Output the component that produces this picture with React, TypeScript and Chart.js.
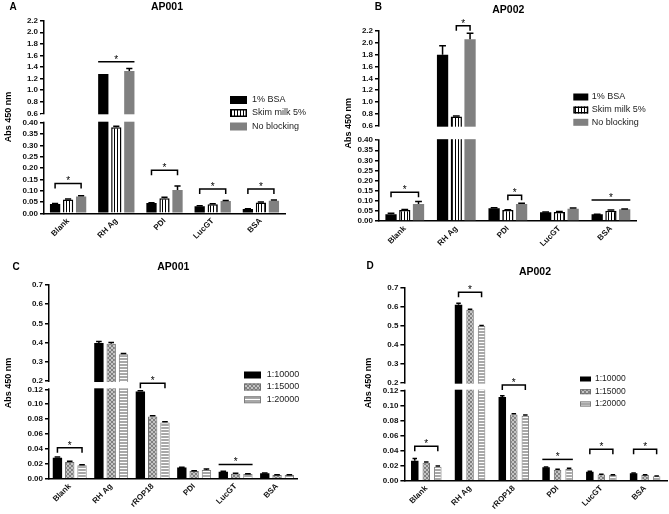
import React, { useEffect, useRef } from 'react';
import { Chart, registerables, LinearScale } from 'chart.js';

Chart.register(...registerables);

// ---------------- DATA ----------------
const catsAB = ['Blank', 'RH Ag', 'PDI', 'LucGT', 'BSA'];
const catsCD = ['Blank', 'RH Ag', 'rROP18', 'PDI', 'LucGT', 'BSA'];
const seriesAB = ['1% BSA', 'Skim milk 5%', 'No blocking'];
const seriesCD = ['1:10000', '1:15000', '1:20000'];

const lowTicksAB = [0, 0.05, 0.1, 0.15, 0.2, 0.25, 0.3, 0.35, 0.4];
const upTicksAB = [0.6, 0.8, 1.0, 1.2, 1.4, 1.6, 1.8, 2.0, 2.2];
const lowTicksCD = [0, 0.02, 0.04, 0.06, 0.08, 0.1, 0.12];
const upTicksCD = [0.2, 0.3, 0.4, 0.5, 0.6, 0.7];

// Panel A (AP001, blocking)
const aBsa = [0.041, 1.28, 0.045, 0.031, 0.019];
const aBsaErr = [0.002, 0, 0.002, 0.002, 0.001];
const aSkim = [0.061, 0.38, 0.066, 0.04, 0.048];
const aSkimErr = [0.002, 0.004, 0.005, 0.002, 0.002];
const aNone = [0.074, 1.33, 0.103, 0.054, 0.055];
const aNoneErr = [0.003, 0.045, 0.018, 0.003, 0.004];
const aSig = [
  { cat: 0, from: 0, to: 2, y: 0.132 },
  { cat: 1, from: 0, to: 2, y: 1.49, flat: true },
  { cat: 2, from: 0, to: 2, y: 0.19 },
  { cat: 3, from: 0, to: 2, y: 0.107 },
  { cat: 4, from: 0, to: 2, y: 0.107 },
];

// Panel B (AP002, blocking)
const bBsa = [0.033, 1.8, 0.063, 0.043, 0.033];
const bBsaErr = [0.005, 0.15, 0.002, 0.001, 0.001];
const bSkim = [0.055, 0.755, 0.054, 0.045, 0.051];
const bSkimErr = [0.002, 0.01, 0.002, 0.002, 0.003];
const bNone = [0.084, 2.06, 0.084, 0.061, 0.058];
const bNoneErr = [0.012, 0.1, 0.004, 0.003, 0.002];
const bSig = [
  { cat: 0, from: 0, to: 2, y: 0.142 },
  { cat: 1, from: 1, to: 2, y: 2.29 },
  { cat: 2, from: 1, to: 2, y: 0.128 },
  { cat: 4, from: 0, to: 2, y: 0.104, flat: true },
];

// Panel C (AP001, dilution)
const c10 = [0.028, 0.398, 0.117, 0.015, 0.0094, 0.0072];
const c10Err = [0.001, 0.008, 0.001, 0.0005, 0.0005, 0.0003];
const c15 = [0.0225, 0.394, 0.0835, 0.0103, 0.0067, 0.005];
const c15Err = [0.001, 0.007, 0.001, 0.0003, 0.0005, 0.0003];
const c20 = [0.018, 0.34, 0.0756, 0.0116, 0.0063, 0.0049];
const c20Err = [0.0008, 0.003, 0.0008, 0.0015, 0.0003, 0.0003];
const cSig = [
  { cat: 0, from: 0, to: 2, y: 0.0416 },
  { cat: 2, from: 0, to: 2, y: 0.178 },
  { cat: 4, from: 0, to: 2, y: 0.0192, flat: true },
];

// Panel D (AP002, dilution)
const d10 = [0.0267, 0.609, 0.1116, 0.0178, 0.012, 0.0098];
const d10Err = [0.003, 0.008, 0.0015, 0.0005, 0.0005, 0.0003];
const d15 = [0.024, 0.582, 0.0884, 0.0147, 0.0084, 0.0076];
const d15Err = [0.001, 0.003, 0.001, 0.0005, 0.0003, 0.0003];
const d20 = [0.0187, 0.498, 0.0867, 0.0156, 0.0076, 0.0058];
const d20Err = [0.001, 0.002, 0.001, 0.001, 0.0003, 0.0003];
const dSig = [
  { cat: 0, from: 0, to: 2, y: 0.046 },
  { cat: 1, from: 0, to: 2, y: 0.674 },
  { cat: 2, from: 0, to: 2, y: 0.177 },
  { cat: 3, from: 0, to: 2, y: 0.0284, flat: true },
  { cat: 4, from: 0, to: 2, y: 0.0418 },
  { cat: 5, from: 0, to: 2, y: 0.0418 },
];

// ---------------- LAYOUT ----------------
const FONT = '"Liberation Sans", Arial, Helvetica, sans-serif';

const panels = [
  {
    key: 'A', letter: 'A', title: 'AP001', kind: 'AB',
    cats: catsAB, series: seriesAB,
    values: [aBsa, aSkim, aNone], errors: [aBsaErr, aSkimErr, aNoneErr], sig: aSig,
    low: lowTicksAB, up: upTicksAB,
    box: { x: 0, y: 0, w: 335, h: 250 },
    area: { l: 44, r: 285, t: 20.7, b: 213.3 }, lowFrac: 0.4704, gapFrac: 0.0488,
    catPct: 0.81, barPct: 0.79,
    letterPos: [13, 7], titlePos: [167, 7], yTitlePos: [8.5, 117],
    legend: { x: 230, ys: [100, 113, 126.5], w: 17, h: 8, tx: 252, fs: 9 },
  },
  {
    key: 'B', letter: 'B', title: 'AP002', kind: 'AB',
    cats: catsAB, series: seriesAB,
    values: [bBsa, bSkim, bNone], errors: [bBsaErr, bSkimErr, bNoneErr], sig: bSig,
    low: lowTicksAB, up: upTicksAB,
    box: { x: 335, y: 0, w: 334, h: 250 },
    area: { l: 44, r: 301.7, t: 31, b: 221 }, lowFrac: 0.4253, gapFrac: 0.0763,
    catPct: 0.8, barPct: 0.82,
    letterPos: [43.3, 7], titlePos: [173.3, 10], yTitlePos: [13.3, 123.3],
    legend: { x: 238.3, ys: [97, 110, 122.3], w: 15, h: 7, tx: 256.7, fs: 9 },
  },
  {
    key: 'C', letter: 'C', title: 'AP001', kind: 'CD',
    cats: catsCD, series: seriesCD,
    values: [c10, c15, c20], errors: [c10Err, c15Err, c20Err], sig: cSig,
    low: lowTicksCD, up: upTicksCD,
    box: { x: 0, y: 250, w: 335, h: 264 },
    area: { l: 49, r: 297.8, t: 35, b: 228.7 }, lowFrac: 0.4615, gapFrac: 0.0428,
    catPct: 0.89, barPct: 0.76,
    letterPos: [16, 17.3], titlePos: [173.3, 17.3], yTitlePos: [8.3, 133],
    legend: { x: 244, ys: [125, 137, 149.7], w: 17, h: 7, tx: 266.7, fs: 9 },
  },
  {
    key: 'D', letter: 'D', title: 'AP002', kind: 'CD',
    cats: catsCD, series: seriesCD,
    values: [d10, d15, d20], errors: [d10Err, d15Err, d20Err], sig: dSig,
    low: lowTicksCD, up: upTicksCD,
    box: { x: 335, y: 250, w: 334, h: 264 },
    area: { l: 69.4, r: 332, t: 37.3, b: 230.7 }, lowFrac: 0.4654, gapFrac: 0.0414,
    catPct: 0.79, barPct: 0.65,
    letterPos: [35, 16], titlePos: [200, 21.7], yTitlePos: [33.3, 133],
    legend: { x: 245, ys: [129, 141.7, 154], w: 11, h: 5, tx: 260, fs: 8.5 },
  },
];

// ---------------- BROKEN AXIS SCALE ----------------
function makeBrokenScale(id: string, low: number[], up: number[], lowFrac: number, gapFrac: number) {
  const lowMax = low[low.length - 1];
  const upMin = up[0];
  const max = up[up.length - 1];
  const upFrac = 1 - lowFrac - gapFrac;
  const Base: any = LinearScale;
  class Broken extends Base {
    determineDataLimits() {
      this.min = 0;
      this.max = max;
    }
    buildTicks() {
      return [...low, ...up].map((value) => ({ value }));
    }
    toDecimal(v: number) {
      if (v <= lowMax) return (v / lowMax) * lowFrac;
      if (v >= upMin) return lowFrac + gapFrac + ((v - upMin) / (max - upMin)) * upFrac;
      return lowFrac + ((v - lowMax) / (upMin - lowMax)) * gapFrac;
    }
    getPixelForValue(v: number) {
      return this.getPixelForDecimal(this.toDecimal(v));
    }
    getValueForPixel(p: number) {
      const d = this.getDecimalForPixel(p);
      if (d <= lowFrac) return (d / lowFrac) * lowMax;
      if (d >= lowFrac + gapFrac) return upMin + ((d - lowFrac - gapFrac) / upFrac) * (max - upMin);
      return lowMax + ((d - lowFrac) / gapFrac) * (upMin - lowMax);
    }
  }
  (Broken as any).id = id;
  return Broken;
}

function makePatterns(ctx: CanvasRenderingContext2D) {
  const mk = (w: number, h: number, draw: (g: CanvasRenderingContext2D) => void) => {
    const c = document.createElement('canvas');
    c.width = w;
    c.height = h;
    const g = c.getContext('2d') as CanvasRenderingContext2D;
    draw(g);
    return ctx.createPattern(c, 'repeat') as CanvasPattern;
  };
  const vstripe = mk(3, 4, (g) => {
    g.fillStyle = '#ffffff';
    g.fillRect(0, 0, 3, 4);
    g.fillStyle = '#000000';
    g.fillRect(0, 0, 1, 4);
  });
  const cross = mk(4, 4, (g) => {
    g.fillStyle = '#c4c4c4';
    g.fillRect(0, 0, 4, 4);
    g.fillStyle = '#808080';
    for (let i = 0; i < 4; i++) {
      g.fillRect(i, i, 1, 1);
      g.fillRect(3 - i, i, 1, 1);
    }
  });
  const hstripe = mk(4, 3, (g) => {
    g.fillStyle = '#a8a8a8';
    g.fillRect(0, 0, 4, 3);
    g.fillStyle = '#ffffff';
    g.fillRect(0, 2, 4, 1);
  });
  return { vstripe, cross, hstripe };
}

function buildChart(canvas: HTMLCanvasElement, p: any) {
  const ctx = canvas.getContext('2d') as CanvasRenderingContext2D;
  const pat = makePatterns(ctx);
  const styles =
    p.kind === 'AB'
      ? [
          { bg: '#000000', bc: '#000000', bw: 0 },
          { bg: pat.vstripe, bc: '#000000', bw: 1.5 },
          { bg: '#808080', bc: '#808080', bw: 0 },
        ]
      : [
          { bg: '#000000', bc: '#000000', bw: 0 },
          { bg: pat.cross, bc: '#6e6e6e', bw: 1 },
          { bg: pat.hstripe, bc: '#7c7c7c', bw: 1 },
        ];

  const scaleId = 'broken' + p.key;
  Chart.register(makeBrokenScale(scaleId, p.low, p.up, p.lowFrac, p.gapFrac) as any);
  const upMin = p.up[0];
  const lowMax = p.low[p.low.length - 1];
  const W = p.box.w;
  const H = p.box.h;

  const decor = {
    id: 'decor' + p.key,
    afterDatasetsDraw(chart: any) {
      const c = chart.ctx;
      const ys = chart.scales.y;
      const a = chart.chartArea;
      const pUp = ys.getPixelForValue(upMin);
      const pLow = ys.getPixelForValue(lowMax);
      c.save();
      c.fillStyle = '#ffffff';
      c.fillRect(a.left - 3, pUp + 1, a.right - a.left + 6, pLow - pUp - 2);
      // error bars
      c.strokeStyle = '#000000';
      c.lineWidth = 1.5;
      p.values.forEach((vals: number[], i: number) => {
        const meta = chart.getDatasetMeta(i);
        meta.data.forEach((bar: any, j: number) => {
          const e = p.errors[i][j];
          if (!e) return;
          const top = ys.getPixelForValue(vals[j] + e);
          const by = ys.getPixelForValue(vals[j]);
          const hw = bar.width * 0.3;
          c.beginPath();
          c.moveTo(bar.x, by);
          c.lineTo(bar.x, top);
          c.moveTo(bar.x - hw, top);
          c.lineTo(bar.x + hw, top);
          c.stroke();
        });
      });
      c.restore();
    },
    afterDraw(chart: any) {
      const c = chart.ctx;
      const ys = chart.scales.y;
      c.save();
      // significance brackets
      c.strokeStyle = '#000000';
      c.lineWidth = 1.5;
      c.fillStyle = '#000000';
      p.sig.forEach((s: any) => {
        const b1 = chart.getDatasetMeta(s.from).data[s.cat];
        const b2 = chart.getDatasetMeta(s.to).data[s.cat];
        const yy = ys.getPixelForValue(s.y);
        let x1: number;
        let x2: number;
        c.beginPath();
        if (s.flat) {
          x1 = b1.x - b1.width / 2;
          x2 = b2.x + b2.width / 2;
          c.moveTo(x1, yy);
          c.lineTo(x2, yy);
        } else {
          x1 = b1.x;
          x2 = b2.x;
          c.moveTo(x1, yy + 5);
          c.lineTo(x1, yy);
          c.lineTo(x2, yy);
          c.lineTo(x2, yy + 5);
        }
        c.stroke();
        c.font = `10px ${FONT}`;
        c.textAlign = 'center';
        c.textBaseline = 'alphabetic';
        c.fillText('*', (x1 + x2) / 2, yy + 1);
      });
      // legend
      const L = p.legend;
      p.series.forEach((name: string, i: number) => {
        const st = styles[i];
        const cy = L.ys[i];
        c.fillStyle = st.bg;
        c.fillRect(L.x, cy - L.h / 2, L.w, L.h);
        if (st.bw) {
          c.strokeStyle = st.bc;
          c.lineWidth = st.bw;
          c.strokeRect(L.x + st.bw / 2, cy - L.h / 2 + st.bw / 2, L.w - st.bw, L.h - st.bw);
        }
        c.fillStyle = '#222222';
        c.font = `${L.fs}px ${FONT}`;
        c.textAlign = 'left';
        c.textBaseline = 'middle';
        c.fillText(name, L.tx, cy);
      });
      // texts
      c.fillStyle = '#000000';
      c.textAlign = 'center';
      c.textBaseline = 'middle';
      c.font = `bold 10px ${FONT}`;
      c.fillText(p.letter, p.letterPos[0], p.letterPos[1]);
      c.font = `bold 10.5px ${FONT}`;
      c.fillText(p.title, p.titlePos[0], p.titlePos[1]);
      c.save();
      c.translate(p.yTitlePos[0], p.yTitlePos[1]);
      c.rotate(-Math.PI / 2);
      c.font = `bold 9px ${FONT}`;
      c.fillText('Abs 450 nm', 0, 0);
      c.restore();
      c.restore();
    },
  };

  const tickFont = { family: FONT, size: 8, weight: 'bold' as const };

  return new Chart(canvas, {
    type: 'bar',
    data: {
      labels: p.cats,
      datasets: p.values.map((vals: number[], i: number) => ({
        label: p.series[i],
        data: vals,
        backgroundColor: styles[i].bg,
        borderColor: styles[i].bc,
        borderWidth: styles[i].bw,
        borderSkipped: 'bottom',
        categoryPercentage: p.catPct,
        barPercentage: p.barPct,
      })),
    },
    options: {
      animation: false,
      responsive: false,
      events: [],
      layout: { padding: { left: 0, top: p.area.t, right: W - p.area.r, bottom: 0 } },
      plugins: {
        legend: { display: false },
        title: { display: false },
        tooltip: { enabled: false },
      },
      scales: {
        x: {
          type: 'category',
          offset: true,
          grid: { display: false, drawTicks: false },
          border: { display: true, color: '#000000', width: 1.5 },
          ticks: {
            autoSkip: false,
            minRotation: 45,
            maxRotation: 45,
            font: tickFont,
            color: '#111111',
            padding: 3,
          },
          afterFit: (s: any) => {
            s.height = H - p.area.b;
          },
        },
        y: {
          type: scaleId as any,
          grid: { drawOnChartArea: false, drawTicks: true, tickLength: 4, color: '#000000', lineWidth: 1.5 },
          border: { display: true, color: '#000000', width: 1.5 },
          ticks: {
            autoSkip: false,
            font: tickFont,
            color: '#111111',
            padding: 2,
            callback: (v: any) => (Number(v) >= upMin ? Number(v).toFixed(1) : Number(v).toFixed(2)),
          },
          afterFit: (s: any) => {
            s.width = p.area.l;
          },
        },
      },
    } as any,
    plugins: [decor as any],
  });
}

function Panel({ p }: { p: any }) {
  const ref = useRef<HTMLCanvasElement | null>(null);
  useEffect(() => {
    if (!ref.current) return;
    const chart = buildChart(ref.current, p);
    return () => chart.destroy();
  }, [p]);
  return (
    <canvas
      ref={ref}
      width={p.box.w}
      height={p.box.h}
      style={{ position: 'absolute', left: p.box.x, top: p.box.y, width: p.box.w, height: p.box.h }}
    />
  );
}

export default function App() {
  return (
    <div style={{ position: 'fixed', left: 0, top: 0, width: 669, height: 514, background: '#ffffff', overflow: 'hidden' }}>
      {panels.map((p) => (
        <Panel key={p.key} p={p} />
      ))}
    </div>
  );
}
